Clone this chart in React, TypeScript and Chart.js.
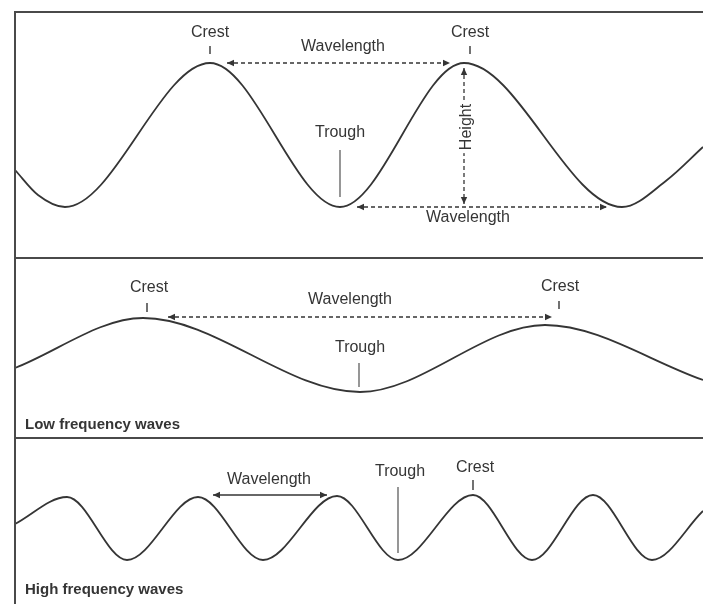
import React, { useEffect, useRef } from "react";
import { Chart, registerables } from "chart.js";
Chart.register(...registerables);

// ---- Panel 1: wave with crest / trough / height ----
const wave1X = [15, 38, 65, 210, 340, 464, 622, 667, 703];
const wave1Y = [-35, -60, -72, 72, -72, 72, -72, -45, -12];

// ---- Panel 2: low frequency wave ----
const wave2X = [15, 143, 360, 545, 703];
const wave2Y = [-13, 37, -37, 30, -25];

// ---- Panel 3: high frequency wave ----
const wave3X = [15, 67, 127, 198, 263, 337, 398, 473, 532, 593, 652, 703];
const wave3Y = [4, 31, -32, 31, -32, 32, -32, 33, -32, 33, -32, 17];

type Label = { text: string; x: number; y: number; bold?: boolean; left?: boolean; rotate?: boolean };
type Seg = { x1: number; y1: number; x2: number; y2: number; dash?: boolean; heads?: boolean; light?: boolean };

const notes1: { labels: Label[]; segs: Seg[] } = {
  labels: [
    { text: "Crest", x: 210, y: 102 },
    { text: "Crest", x: 470, y: 102 },
    { text: "Wavelength", x: 343, y: 88 },
    { text: "Trough", x: 340, y: 2 },
    { text: "Wavelength", x: 468, y: -83 },
    { text: "Height", x: 466, y: 8, rotate: true },
  ],
  segs: [
    { x1: 210, y1: 89, x2: 210, y2: 81 },
    { x1: 470, y1: 89, x2: 470, y2: 81 },
    { x1: 227, y1: 72, x2: 450, y2: 72, dash: true, heads: true },
    { x1: 464, y1: 67, x2: 464, y2: -69, dash: true, heads: true },
    { x1: 340, y1: -15, x2: 340, y2: -62, light: true },
    { x1: 357, y1: -72, x2: 607, y2: -72, dash: true, heads: true },
  ],
};

const notes2: { labels: Label[]; segs: Seg[] } = {
  labels: [
    { text: "Crest", x: 149, y: 67 },
    { text: "Wavelength", x: 350, y: 55 },
    { text: "Trough", x: 360, y: 7 },
    { text: "Crest", x: 560, y: 68 },
    { text: "Low frequency waves", x: 25, y: -70, bold: true, left: true },
  ],
  segs: [
    { x1: 147, y1: 52, x2: 147, y2: 43 },
    { x1: 168, y1: 38, x2: 552, y2: 38, dash: true, heads: true },
    { x1: 359, y1: -8, x2: 359, y2: -32, light: true },
    { x1: 559, y1: 54, x2: 559, y2: 46 },
  ],
};

const notes3: { labels: Label[]; segs: Seg[] } = {
  labels: [
    { text: "Wavelength", x: 269, y: 48 },
    { text: "Trough", x: 400, y: 56 },
    { text: "Crest", x: 475, y: 60 },
    { text: "High frequency waves", x: 25, y: -62, bold: true, left: true },
  ],
  segs: [
    { x1: 213, y1: 33, x2: 327, y2: 33, heads: true },
    { x1: 398, y1: 41, x2: 398, y2: -25, light: true },
    { x1: 473, y1: 48, x2: 473, y2: 38 },
  ],
};

const INK = "#353535";
const FONT = "'Liberation Sans', Arial, Helvetica, sans-serif";

function head(ctx: CanvasRenderingContext2D, x: number, y: number, ang: number) {
  const L = 7, W = 3.2;
  ctx.beginPath();
  ctx.moveTo(x, y);
  ctx.lineTo(x - L * Math.cos(ang) + W * Math.sin(ang), y - L * Math.sin(ang) - W * Math.cos(ang));
  ctx.lineTo(x - L * Math.cos(ang) - W * Math.sin(ang), y - L * Math.sin(ang) + W * Math.cos(ang));
  ctx.closePath();
  ctx.fill();
}

function makeNotes(notes: { labels: Label[]; segs: Seg[] }) {
  return {
    id: "notes",
    afterDatasetsDraw(chart: any) {
      const ctx: CanvasRenderingContext2D = chart.ctx;
      const sx = chart.scales.x, sy = chart.scales.y;
      ctx.save();
      for (const s of notes.segs) {
        const x1 = sx.getPixelForValue(s.x1), y1 = sy.getPixelForValue(s.y1);
        const x2 = sx.getPixelForValue(s.x2), y2 = sy.getPixelForValue(s.y2);
        ctx.strokeStyle = s.light ? "#6a6a6a" : INK;
        ctx.fillStyle = INK;
        ctx.lineWidth = s.dash ? 1.3 : 1.4;
        ctx.setLineDash(s.dash ? [4, 3] : []);
        ctx.beginPath();
        ctx.moveTo(x1, y1);
        ctx.lineTo(x2, y2);
        ctx.stroke();
        ctx.setLineDash([]);
        if (s.heads) {
          const ang = Math.atan2(y2 - y1, x2 - x1);
          head(ctx, x2, y2, ang);
          head(ctx, x1, y1, ang + Math.PI);
        }
      }
      for (const l of notes.labels) {
        const x = sx.getPixelForValue(l.x), y = sy.getPixelForValue(l.y);
        ctx.font = (l.bold ? "bold 15px " : "16px ") + FONT;
        ctx.textBaseline = "middle";
        ctx.fillStyle = INK;
        if (l.rotate) {
          ctx.save();
          ctx.translate(x, y);
          ctx.rotate(-Math.PI / 2);
          const w = ctx.measureText(l.text).width;
          ctx.fillStyle = "#ffffff";
          ctx.fillRect(-w / 2 - 3, -8, w + 6, 16);
          ctx.fillStyle = INK;
          ctx.textAlign = "center";
          ctx.fillText(l.text, 0, 1);
          ctx.restore();
        } else {
          ctx.textAlign = l.left ? "left" : "center";
          ctx.fillText(l.text, x, y);
        }
      }
      ctx.restore();
    },
  };
}

function Panel(props: { top: number; height: number; xs: number[]; ys: number[]; yMin: number; yMax: number; notes: { labels: Label[]; segs: Seg[] } }) {
  const ref = useRef<HTMLCanvasElement>(null);
  useEffect(() => {
    const chart = new Chart(ref.current as HTMLCanvasElement, {
      type: "scatter",
      data: {
        datasets: [
          {
            data: props.xs.map((x, i) => ({ x, y: props.ys[i] })),
            showLine: true,
            pointRadius: 0,
            borderColor: INK,
            borderWidth: 1.8,
            cubicInterpolationMode: "monotone",
            fill: false,
          } as any,
        ],
      },
      options: {
        animation: false,
        responsive: false,
        devicePixelRatio: 1,
        events: [],
        layout: { padding: 0 },
        scales: {
          x: { type: "linear", min: 0, max: 703, display: false },
          y: { type: "linear", min: props.yMin, max: props.yMax, display: false },
        },
        plugins: { legend: { display: false }, tooltip: { enabled: false } },
      },
      plugins: [makeNotes(props.notes)],
    });
    return () => chart.destroy();
  }, []);
  return (
    <canvas
      ref={ref}
      width={703}
      height={props.height}
      style={{ position: "absolute", left: 0, top: props.top, width: 703, height: props.height }}
    />
  );
}

const lineStyle = (left: number, top: number, width: number, height: number): React.CSSProperties => ({
  position: "absolute",
  left,
  top,
  width,
  height,
  background: "#4a4a4a",
});

export default function App() {
  return (
    <div style={{ position: "fixed", left: 0, top: 0, width: 703, height: 604, background: "#fff", overflow: "hidden" }}>
      <Panel top={12} height={246} xs={wave1X} ys={wave1Y} yMin={-123} yMax={123} notes={notes1} />
      <Panel top={258} height={180} xs={wave2X} ys={wave2Y} yMin={-83} yMax={97} notes={notes2} />
      <Panel top={438} height={166} xs={wave3X} ys={wave3Y} yMin={-76} yMax={90} notes={notes3} />
      <div style={lineStyle(14, 11, 689, 2)} />
      <div style={lineStyle(14, 257, 689, 2)} />
      <div style={lineStyle(14, 437, 689, 2)} />
      <div style={lineStyle(14, 11, 2, 593)} />
    </div>
  );
}
